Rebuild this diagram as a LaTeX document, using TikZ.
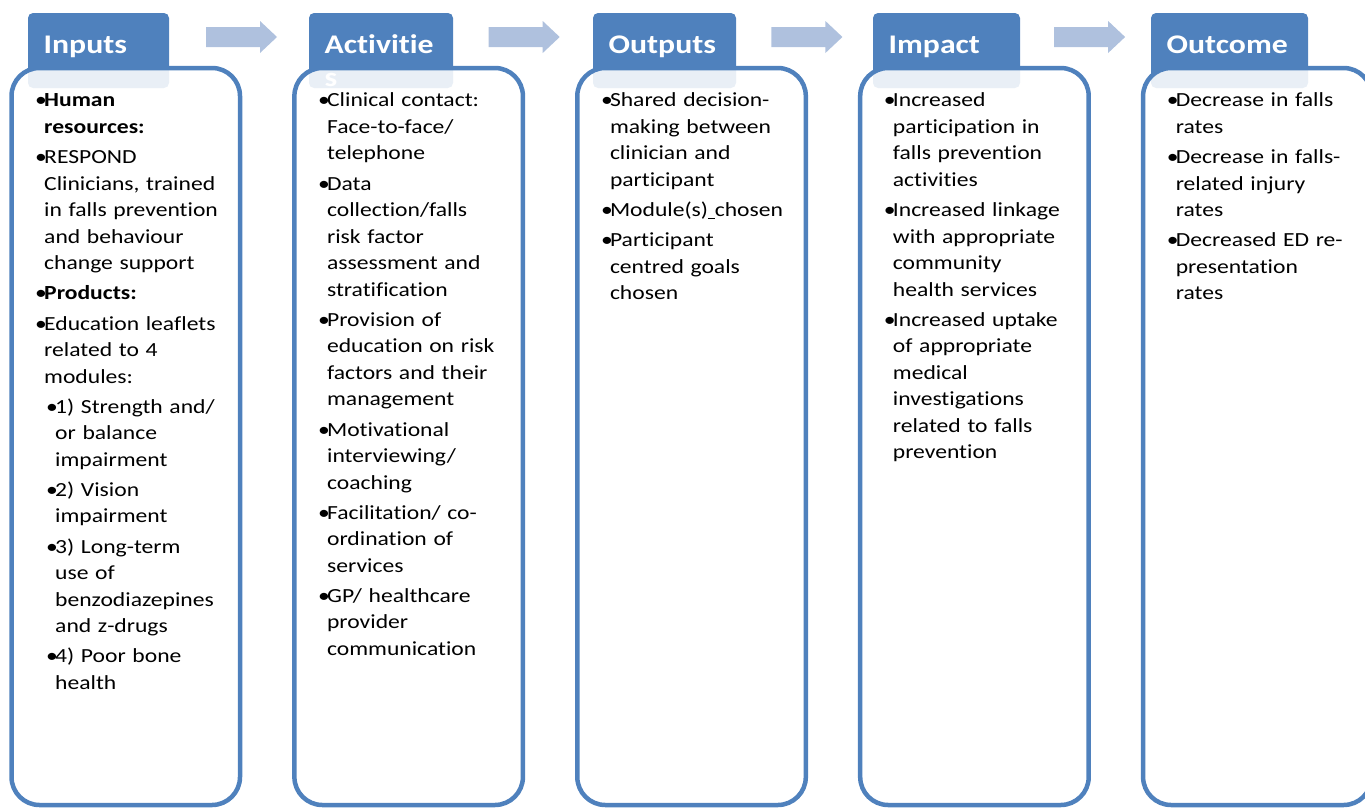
\documentclass[tikz,border=0pt]{standalone}
\usepackage{fontspec}
\setmainfont{Carlito}[FakeStretch=1.18,Ligatures={NoCommon,NoContextual}]
\usetikzlibrary{positioning}
\definecolor{tabc}{HTML}{4F81BD}
\definecolor{arrc}{HTML}{AFC1DE}
\tikzset{
  tabbox/.style={fill=tabc,rounded corners=5pt,minimum width=#1,minimum height=75pt,inner sep=0pt,outer sep=0pt,anchor=north west},
  ttl/.style={inner sep=0pt,text=white,font=\fontsize{26.9}{33}\selectfont\bfseries,align=left},
  stagebox/.style={draw=tabc,line width=4.5pt,rounded corners=28pt,fill=white,fill opacity=0.88,draw opacity=1,minimum width=228.5pt,minimum height=737pt,inner sep=0pt,outer sep=0pt,anchor=north west},
  body/.style={inner sep=0pt,text width=220pt,align=left,font=\fontsize{20}{26.5}\selectfont,execute at begin node={\setlength{\parskip}{3.7pt}}}
}
\newcommand{\bitem}[2][0pt]{\par\leftskip=#1\relax\hangindent=9pt\hangafter=1\noindent\strut\makebox[9pt][l]{\textbullet}#2\par}
\newcommand{\stage}[5]{\node[tabbox=#4] (t#1) at (#3,13) {};
  \node[ttl,below right=17.2pt and 15.5pt of t#1.north west] (h#1) {\strut #5};
  \node[stagebox] (b#1) at (#2,68) {};}

\begin{document}
\begin{tikzpicture}[x=1pt,y=-1pt]
\useasboundingbox (0,0) rectangle (1365,809);
\foreach \i in {0,...,3}
  \fill[arrc,xshift=282.7*\i] (206,27) -- (260,27) -- (260,21) -- (277,37) -- (260,53) -- (260,47) -- (206,47) -- cycle;
\stage{In}{11.5}{28}{141pt}{Inputs}
\stage{Ac}{294.4}{309}{144pt}{Activitie\\s}
\stage{Op}{577.3}{593}{143pt}{Outputs}
\stage{Im}{860.2}{873}{147pt}{Impact}
\stage{Oc}{1143.1}{1151}{157pt}{Outcome}
\node[body,below right=8.5pt and 23.5pt of bIn.north west] (lIn) {%
  \bitem{\textbf{Human}\newline\textbf{resources:}}
  \bitem{RESPOND\newline Clinicians, trained\newline in falls prevention\newline and behaviour\newline change support}
  \bitem{\textbf{Products:}}
  \bitem{Education leaflets\newline related to 4\newline modules:}
  \bitem[11pt]{1) Strength and/\newline or balance\newline impairment}
  \bitem[11pt]{2) Vision\newline impairment}
  \bitem[11pt]{3) Long-term\newline use of\newline benzodiazepines\newline and z-drugs}
  \bitem[11pt]{4) Poor bone\newline health}};
\node[body,below right=8.5pt and 23.5pt of bAc.north west] (lAc) {%
  \bitem{Clinical contact:\newline Face-to-face/\newline telephone}
  \bitem{Data\newline collection/falls\newline risk factor\newline assessment and\newline stratification}
  \bitem{Provision of\newline education on risk\newline factors and their\newline management}
  \bitem{Motivational\newline interviewing/\newline coaching}
  \bitem{Facilitation/ co-\newline ordination of\newline services}
  \bitem{GP/ healthcare\newline provider\newline communication}};
\node[body,below right=8.5pt and 23.5pt of bOp.north west] (lOp) {%
  \bitem{Shared decision-\newline making between\newline clinician and\newline participant}
  \bitem{Module(s)\underline{\ }chosen}
  \bitem{Participant\newline centred goals\newline chosen}};
\node[body,below right=8.5pt and 23.5pt of bIm.north west] (lIm) {%
  \bitem{Increased\newline participation in\newline falls prevention\newline activities}
  \bitem{Increased linkage\newline with appropriate\newline community\newline health services}
  \bitem{Increased uptake\newline of appropriate\newline medical\newline investigations\newline related to falls\newline prevention}};
\node[body,below right=8.5pt and 23.5pt of bOc.north west] (lOc) {%
  \bitem{Decrease in falls\newline rates}
  \bitem{Decrease in falls-\newline related injury\newline rates}
  \bitem{Decreased ED re-\newline presentation\newline rates}};
\end{tikzpicture}
\end{document}
